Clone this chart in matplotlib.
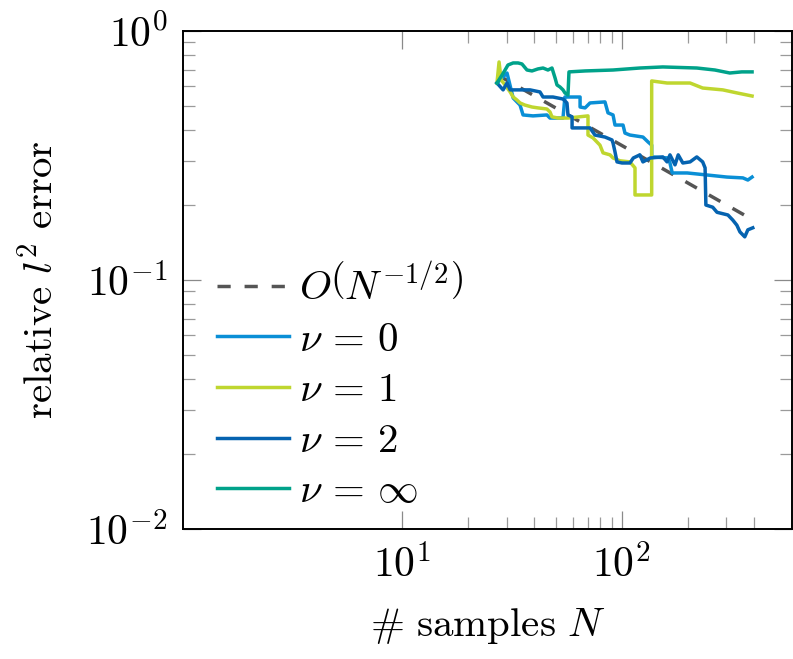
import matplotlib
matplotlib.use("Agg")
import matplotlib.pyplot as plt
import numpy as np

plt.rcParams['mathtext.fontset'] = 'cm'

# reference slope O(N^-1/2)
ref_n = [27.0, 400.0]
ref_err = [0.668, 0.1735]

# nu = 0
n0 = [27.0, 30.0, 32.0, 34.4, 35.5, 39.4, 45.6, 47.1, 54.0, 55.1, 64.6, 64.6, 68.1,
      71.7, 83.9, 86.6, 91.3, 93.2, 101.4, 103.5, 109, 125, 132, 137, 137, 163, 166,
      170, 199, 245, 302, 357, 376, 393]
e0 = [0.618, 0.678, 0.538, 0.504, 0.460, 0.456, 0.460, 0.447, 0.447, 0.543, 0.543, 0.495, 0.491,
      0.514, 0.519, 0.469, 0.460, 0.419, 0.419, 0.389, 0.382, 0.375, 0.358, 0.348, 0.312, 0.309, 0.295,
      0.269, 0.269, 0.264, 0.259, 0.257, 0.252, 0.259]

# nu = 1
n1 = [27.0, 27.6, 28.2, 29.4, 31.0, 32.0, 33.3, 34.4, 36.2, 39.0, 41.5, 45.6, 47.1, 48.1,
      51.3, 56.9, 70.2, 70.2, 74.0, 79.6, 82.2, 88.5, 91.3, 98.2, 109, 115, 115, 137,
      137, 161, 205, 234, 289, 335, 393]
e1 = [0.618, 0.751, 0.636, 0.607, 0.569, 0.543, 0.528, 0.514, 0.504, 0.495, 0.491, 0.486, 0.473, 0.452,
      0.447, 0.447, 0.456, 0.382, 0.372, 0.348, 0.324, 0.318, 0.309, 0.301, 0.298, 0.282, 0.2195, 0.2195,
      0.630, 0.618, 0.618, 0.590, 0.580, 0.564, 0.548]

# nu = 2
n2 = [27.0, 28.8, 30.0, 31.0, 38.2, 42.4, 43.8, 48.6, 54.0, 56.3, 56.9, 59.4, 59.4, 71.7,
      75.5, 83.9, 90.3, 91.3, 93.2, 95.2, 100.3, 109, 113, 121, 125, 135, 154, 161, 166,
      175, 181, 190, 205, 220, 234, 240, 242, 260, 272, 305, 321, 335, 346, 364, 376, 396]
e2 = [0.618, 0.580, 0.618, 0.580, 0.580, 0.569, 0.543, 0.543, 0.533, 0.514, 0.460, 0.452, 0.408, 0.408,
      0.382, 0.375, 0.365, 0.355, 0.327, 0.298, 0.295, 0.295, 0.309, 0.318, 0.298, 0.309, 0.312, 0.298, 0.318,
      0.290, 0.318, 0.295, 0.298, 0.312, 0.298, 0.282, 0.200, 0.196, 0.187, 0.1824, 0.174, 0.166, 0.156, 0.149, 0.159, 0.162]

# nu = inf
ninf = [27.0, 28.5, 29.4, 30.3, 32.0, 33.7, 35.1, 37.0, 39.0, 41.5, 43.8, 46.1, 48.1, 49.7,
        50.7, 52.3, 54.0, 55.1, 56.9, 57.5, 68.1, 91.3, 121, 154, 220, 266, 311, 353, 393]
einf = [0.618, 0.666, 0.697, 0.730, 0.744, 0.744, 0.737, 0.697, 0.691, 0.704, 0.710, 0.697, 0.710, 0.647,
        0.607, 0.596, 0.580, 0.564, 0.553, 0.685, 0.691, 0.697, 0.710, 0.717, 0.710, 0.697, 0.678, 0.685, 0.685]

fig = plt.figure(figsize=(7.93, 6.59), dpi=100)
ax = fig.add_axes([0.2308, 0.1973, 0.7676, 0.7557])

lw = 2.5
ax.plot(ref_n, ref_err, color='#555555', lw=lw, dashes=(3.8, 4.0), label=r'$O\left(N^{-1/2}\right)$')
ax.plot(n0, e0, color='#0a8fd6', lw=lw, label=r'$\nu \,=\, 0$')
ax.plot(n1, e1, color='#bfd62f', lw=lw, label=r'$\nu \,=\, 1$')
ax.plot(n2, e2, color='#0563b0', lw=lw, label=r'$\nu \,=\, 2$')
ax.plot(ninf, einf, color='#00a28a', lw=lw, label=r'$\nu \,=\, \infty$')

ax.set_xscale('log')
ax.set_yscale('log')
ax.set_xlim(1.0, 596)
ax.set_ylim(1e-2, 1)

ax.set_xticks([10, 100])
ax.set_xticklabels([r'$10^{1}$', r'$10^{2}$'])
ax.set_xticks([20, 30, 40, 50, 60, 70, 80, 90, 200, 300, 400], minor=True)
ax.set_xticklabels([], minor=True)
ax.set_yticks([1e-2, 1e-1, 1])
ax.set_yticklabels([r'$10^{-2}$', r'$10^{-1}$', r'$10^{0}$'])
ax.set_yticks([k * 10.0**d for d in (-2, -1) for k in range(2, 10)], minor=True)
ax.set_yticklabels([], minor=True)

ax.tick_params(which='both', direction='in', top=True, right=True, labelsize=30)
ax.tick_params(which='major', length=13, width=0.9, color='#8a8a8a', pad=11)
ax.tick_params(which='minor', length=8.6, width=0.9, color='#9a9a9a')
for s in ax.spines.values():
    s.set_linewidth(1.4)

ax.set_xlabel(r'$\#\ \mathrm{samples}\ N$', fontsize=29.5, labelpad=14)
ax.set_ylabel(r'$\mathrm{relative}\ l^2\ \mathrm{error}$', fontsize=29.5, labelpad=18)

ax.legend(loc='upper left', bbox_to_anchor=(0.056, 0.527), frameon=False, fontsize=29.5,
          handlelength=1.75, handletextpad=0.25, labelspacing=0.26, borderpad=0, borderaxespad=0)

fig.savefig('out.png', dpi=100)
